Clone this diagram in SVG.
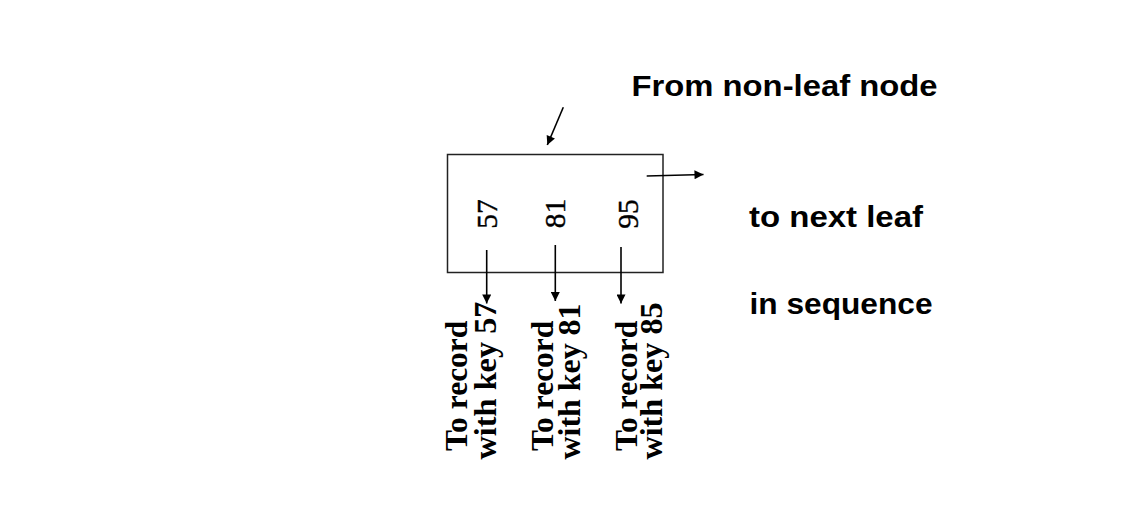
<svg xmlns="http://www.w3.org/2000/svg" width="1131" height="507" viewBox="0 0 1131 507">
<style>
.box{fill:#fff;stroke:#222;stroke-width:1.5}
.conn{stroke:#000;stroke-width:1.6;fill:none}
.num{font-family:"Liberation Serif","Times New Roman",serif;font-size:29.5px;fill:#000;stroke:#000;stroke-width:0.4}
.lab{font-family:"Liberation Serif","Times New Roman",serif;font-size:31.5px;font-weight:bold;fill:#000}
.note{font-family:"Liberation Sans",Arial,sans-serif;font-size:29px;font-weight:bold;fill:#000}
</style>
<defs>
<marker id="ah" viewBox="0 0 10 10" refX="10" refY="5" markerWidth="11" markerHeight="9" markerUnits="userSpaceOnUse" orient="auto">
<path d="M0,0 L10,5 L0,10 z" fill="#000"/>
</marker>
</defs>
<rect width="1131" height="507" fill="#fff"/>
<g id="leaf">
<rect class="box" x="447.5" y="154.5" width="215.5" height="118"/>
<text class="num" transform="translate(496.5,214) rotate(-90)" text-anchor="middle">57</text>
<text class="num" transform="translate(565,213.5) rotate(-90)" text-anchor="middle">81</text>
<text class="num" transform="translate(637.5,214) rotate(-90)" text-anchor="middle">95</text>
</g>
<g id="connectors">
<line class="conn" x1="563.3" y1="107.3" x2="547.3" y2="145" marker-end="url(#ah)"/>
<line class="conn" x1="646.7" y1="176" x2="703.5" y2="174.5" marker-end="url(#ah)"/>
<line class="conn" x1="486.7" y1="250" x2="486.7" y2="303.5" marker-end="url(#ah)"/>
<line class="conn" x1="555.3" y1="245" x2="555.3" y2="301" marker-end="url(#ah)"/>
<line class="conn" x1="621" y1="247" x2="621" y2="303.5" marker-end="url(#ah)"/>
</g>
<g id="rec57">
<text class="lab" transform="translate(467,451) rotate(-90)">To record</text>
<text class="lab" transform="translate(496,459.5) rotate(-90)" textLength="158" lengthAdjust="spacingAndGlyphs">with key 57</text>
</g>
<g id="rec81">
<text class="lab" transform="translate(552.5,451) rotate(-90)">To record</text>
<text class="lab" transform="translate(580,459.5) rotate(-90)" textLength="156" lengthAdjust="spacingAndGlyphs">with key 81</text>
</g>
<g id="rec85">
<text class="lab" transform="translate(636.7,451) rotate(-90)">To record</text>
<text class="lab" transform="translate(661.7,459.5) rotate(-90)" textLength="157" lengthAdjust="spacingAndGlyphs">with key 85</text>
</g>
<g id="labels">
<text class="note" x="631.5" y="96" textLength="306" lengthAdjust="spacingAndGlyphs">From non-leaf node</text>
<text class="note" x="749" y="227.3" textLength="174" lengthAdjust="spacingAndGlyphs">to next leaf</text>
<text class="note" x="749.5" y="313.5" textLength="183" lengthAdjust="spacingAndGlyphs">in sequence</text>
</g>
</svg>
